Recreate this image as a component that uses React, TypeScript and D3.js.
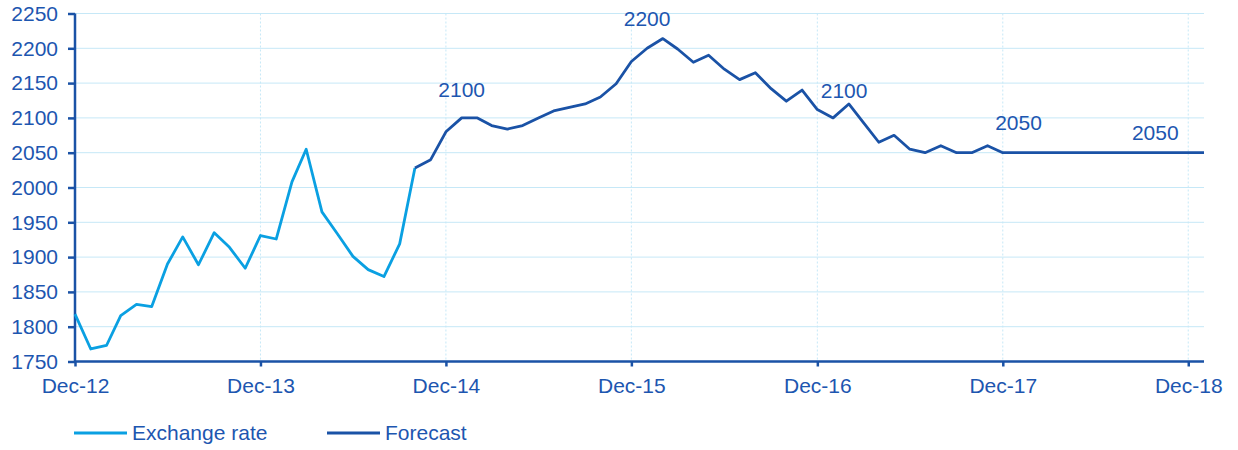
import { useEffect, useRef } from "react";
import * as d3 from "d3";

// monthly observations, first point is Dec-12
const START = new Date(2012, 11, 1);
const exchangeRate = [
  1818, 1768, 1773, 1816, 1832, 1829, 1890, 1929, 1889, 1935, 1914, 1884,
  1931, 1926, 2008, 2055, 1965, 1934, 1901, 1882, 1872, 1919, 2028,
];
// forecast picks up at the last observed month (Oct-14)
const FORECAST_START = 22;
const forecast = [
  2028, 2040, 2080, 2100, 2100, 2089, 2084, 2089, 2100, 2110, 2115, 2120,
  2130, 2149, 2181, 2200, 2214, 2199, 2180, 2190, 2170, 2155, 2165, 2142,
  2124, 2140, 2112, 2100, 2120, 2094, 2065, 2075, 2055, 2050, 2060, 2050,
  2050, 2060, 2050, 2050, 2050, 2050, 2050, 2050, 2050, 2050, 2050, 2050,
  2050, 2050, 2050, 2050,
];
const yTicks = [1750, 1800, 1850, 1900, 1950, 2000, 2050, 2100, 2150, 2200, 2250];
const xTickYears = [2012, 2013, 2014, 2015, 2016, 2017, 2018];
// labels written over the forecast: month index from Dec-12, text
const annotations = [
  { month: 25, value: 2100, text: "2100" },
  { month: 37, value: 2200, text: "2200" },
  { month: 49, value: 2100, text: "2100" },
  { month: 61, value: 2050, text: "2050" },
  { month: 70, value: 2050, text: "2050" },
];
const legendItems = ["Exchange rate", "Forecast"];

const LIGHT = "#0aa0e2";
const DARK = "#1a52a6";
const TEXT = "#1d56b0";
const GRID = "#c6e8f7";
const FONT = "'Liberation Sans', Arial, sans-serif";
const FS = 21;

export default function App() {
  const ref = useRef<SVGSVGElement>(null);
  useEffect(() => {
    const el = ref.current;
    if (!el) return;
    const W = 1238, H = 450;
    const svg = d3.select(el).attr("width", W).attr("height", H).attr("viewBox", `0 0 ${W} ${H}`);
    svg.selectAll("*").remove();

    const monthDate = (i: number) => d3.timeMonth.offset(START, i);
    const x = d3.scaleTime().domain([START, new Date(2019, 0, 1)]).range([75, 1204]);
    const y = d3.scaleLinear().domain([1750, 2250]).range([361.5, 13.5]);
    const [x0, x1] = x.range();

    // grid
    yTicks.forEach((t) => {
      svg.append("line").attr("x1", x0).attr("x2", x1).attr("y1", y(t)).attr("y2", y(t))
        .attr("stroke", GRID).attr("stroke-width", 1);
    });
    xTickYears.forEach((yr) => {
      const xx = x(new Date(yr, 11, 1));
      svg.append("line").attr("x1", xx).attr("x2", xx).attr("y1", y(2250)).attr("y2", y(1750))
        .attr("stroke", GRID).attr("stroke-width", 1).attr("stroke-dasharray", "2,2");
    });

    // axes
    const yAxis = svg.append("g").attr("transform", `translate(${x0},0)`)
      .call(d3.axisLeft(y).tickValues(yTicks).tickSize(7).tickPadding(10).tickFormat(d3.format("d")));
    const xAxis = svg.append("g").attr("transform", `translate(0,${y(1750)})`)
      .call(d3.axisBottom(x).tickValues(xTickYears.map((yr) => new Date(yr, 11, 1))).tickSize(5).tickPadding(12)
        .tickFormat((d) => d3.timeFormat("%b-%y")(d as Date)));
    [yAxis, xAxis].forEach((g) => {
      g.select(".domain").attr("stroke", DARK).attr("stroke-width", 2.5);
      g.selectAll(".tick line").attr("stroke", DARK).attr("stroke-width", 2.5);
      g.selectAll(".tick text").attr("fill", TEXT).attr("font-size", FS).attr("font-family", FONT);
    });
    yAxis.select(".domain").attr("d", `M0,${y(2250)}V${y(1750)}`);
    xAxis.select(".domain").attr("d", `M${x0},0H${x1}`);

    const line = d3.line<[number, number]>().x((d) => x(monthDate(d[0]))).y((d) => y(d[1]));
    svg.append("path").attr("d", line(exchangeRate.map((v, i) => [i, v])))
      .attr("fill", "none").attr("stroke", LIGHT).attr("stroke-width", 2.8).attr("stroke-linejoin", "round");
    svg.append("path").attr("d", line(forecast.map((v, i) => [i + FORECAST_START, v])))
      .attr("fill", "none").attr("stroke", DARK).attr("stroke-width", 2.8).attr("stroke-linejoin", "round");

    // value labels on the forecast
    const labelOffset = [
      { dx: 0, dy: -21 },
      { dx: 0, dy: -22 },
      { dx: 11, dy: -20 },
      { dx: 0, dy: -23 },
      { dx: -2, dy: -13 },
    ];
    annotations.forEach((a, i) => {
      svg.append("text").attr("x", x(monthDate(a.month)) + labelOffset[i].dx).attr("y", y(a.value) + labelOffset[i].dy)
        .attr("text-anchor", "middle").attr("fill", TEXT).attr("font-size", FS).attr("font-family", FONT).text(a.text);
    });

    // legend
    const legendX = [74, 327];
    legendItems.forEach((name, i) => {
      svg.append("line").attr("x1", legendX[i]).attr("x2", legendX[i] + 53).attr("y1", 433).attr("y2", 433)
        .attr("stroke", i === 0 ? LIGHT : DARK).attr("stroke-width", 2.8);
      svg.append("text").attr("x", legendX[i] + 58).attr("y", 440).attr("fill", TEXT)
        .attr("font-size", FS).attr("font-family", FONT).text(name);
    });
  }, []);
  return (
    <svg ref={ref} style={{ position: "absolute", left: 0, top: 0, background: "#fff" }} role="img" aria-label="Exchange rate and forecast" />
  );
}
